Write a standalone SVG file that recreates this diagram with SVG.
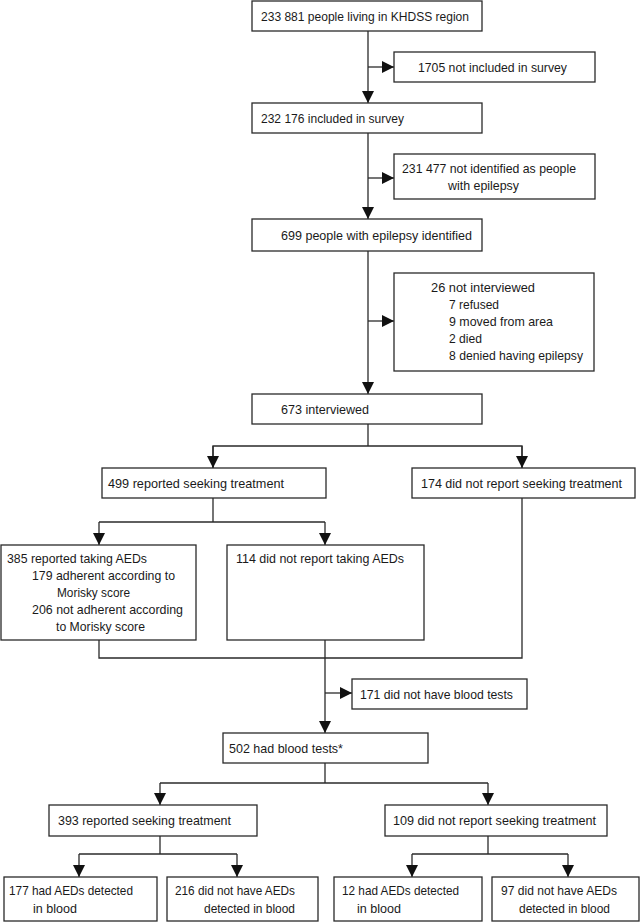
<svg xmlns="http://www.w3.org/2000/svg" width="642" height="922" viewBox="0 0 642 922">
<style>
.box{fill:#fff;stroke:#2a2a2a;stroke-width:1.3}
.ln{fill:none;stroke:#2a2a2a;stroke-width:1.3}
text{font-family:"Liberation Sans",Arial,sans-serif;font-size:13.5px;fill:#1a1a1a}
</style>
<defs>
<marker id="ah" markerUnits="userSpaceOnUse" markerWidth="12" markerHeight="12" viewBox="0 0 10 10" refX="10" refY="5" orient="auto">
<path d="M0,0 L10,5 L0,10 Z" fill="#111"/>
</marker>
</defs>
<rect width="642" height="922" fill="#fff"/>
<g id="connectors">
<line class="ln" x1="368" y1="31" x2="368" y2="103" marker-end="url(#ah)"/>
<line class="ln" x1="368" y1="67" x2="394" y2="67" marker-end="url(#ah)"/>
<line class="ln" x1="368" y1="133" x2="368" y2="219" marker-end="url(#ah)"/>
<line class="ln" x1="368" y1="178" x2="394" y2="178" marker-end="url(#ah)"/>
<line class="ln" x1="368" y1="251" x2="368" y2="394" marker-end="url(#ah)"/>
<line class="ln" x1="368" y1="321" x2="394" y2="321" marker-end="url(#ah)"/>
<polyline class="ln" points="368,424 368,446"/>
<polyline class="ln" points="213,468 213,446 522,446 522,468"/>
<line class="ln" x1="213" y1="446" x2="213" y2="468" marker-end="url(#ah)"/>
<line class="ln" x1="522" y1="446" x2="522" y2="468" marker-end="url(#ah)"/>
<polyline class="ln" points="213,498 213,522"/>
<polyline class="ln" points="99,522 325,522"/>
<line class="ln" x1="99" y1="522" x2="99" y2="545" marker-end="url(#ah)"/>
<line class="ln" x1="325" y1="522" x2="325" y2="545" marker-end="url(#ah)"/>
<polyline class="ln" points="99,640 99,658 522,658 522,498"/>
<line class="ln" x1="325" y1="640" x2="325" y2="733" marker-end="url(#ah)"/>
<line class="ln" x1="325" y1="693" x2="352" y2="693" marker-end="url(#ah)"/>
<polyline class="ln" points="325,763 325,783"/>
<polyline class="ln" points="160,783 488,783"/>
<line class="ln" x1="160" y1="783" x2="160" y2="805" marker-end="url(#ah)"/>
<line class="ln" x1="488" y1="783" x2="488" y2="805" marker-end="url(#ah)"/>
<polyline class="ln" points="160,836 160,854"/>
<polyline class="ln" points="79,854 237,854"/>
<line class="ln" x1="79" y1="854" x2="79" y2="877" marker-end="url(#ah)"/>
<line class="ln" x1="237" y1="854" x2="237" y2="877" marker-end="url(#ah)"/>
<polyline class="ln" points="488,836 488,854"/>
<polyline class="ln" points="412,854 568,854"/>
<line class="ln" x1="412" y1="854" x2="412" y2="877" marker-end="url(#ah)"/>
<line class="ln" x1="568" y1="854" x2="568" y2="877" marker-end="url(#ah)"/>
</g>
<g id="n-khdss"><rect class="box" x="252" y="1" width="230" height="30"/><text x="261" y="20.5" textLength="208" lengthAdjust="spacingAndGlyphs">233 881 people living in KHDSS region</text></g>
<g id="n-notincluded"><rect class="box" x="394" y="52" width="201" height="30"/><text x="418" y="72" textLength="149" lengthAdjust="spacingAndGlyphs">1705 not included in survey</text></g>
<g id="n-included"><rect class="box" x="252" y="103" width="230" height="30"/><text x="261" y="122.5" textLength="143" lengthAdjust="spacingAndGlyphs">232 176 included in survey</text></g>
<g id="n-notidentified"><rect class="box" x="394" y="154" width="201" height="45"/><text x="402" y="173" textLength="174" lengthAdjust="spacingAndGlyphs">231 477 not identified as people</text><text x="448" y="190" textLength="71" lengthAdjust="spacingAndGlyphs">with epilepsy</text></g>
<g id="n-identified"><rect class="box" x="252" y="219" width="230" height="32"/><text x="281" y="240" textLength="191" lengthAdjust="spacingAndGlyphs">699 people with epilepsy identified</text></g>
<g id="n-notinterviewed"><rect class="box" x="394" y="273" width="200" height="98"/>
<text x="431" y="292" textLength="104" lengthAdjust="spacingAndGlyphs">26 not interviewed</text>
<text x="449" y="309" textLength="50" lengthAdjust="spacingAndGlyphs">7 refused</text>
<text x="449" y="326" textLength="104" lengthAdjust="spacingAndGlyphs">9 moved from area</text>
<text x="449" y="343" textLength="33" lengthAdjust="spacingAndGlyphs">2 died</text>
<text x="449" y="360" textLength="134" lengthAdjust="spacingAndGlyphs">8 denied having epilepsy</text></g>
<g id="n-interviewed"><rect class="box" x="252" y="394" width="230" height="30"/><text x="281" y="413.5" textLength="88" lengthAdjust="spacingAndGlyphs">673 interviewed</text></g>
<g id="n-seeking"><rect class="box" x="102" y="468" width="224" height="30"/><text x="108" y="487.5" textLength="176" lengthAdjust="spacingAndGlyphs">499 reported seeking treatment</text></g>
<g id="n-notseeking"><rect class="box" x="412" y="468" width="223" height="30"/><text x="421" y="487.5" textLength="201" lengthAdjust="spacingAndGlyphs">174 did not report seeking treatment</text></g>
<g id="n-takingaeds"><rect class="box" x="1" y="545" width="195" height="95"/>
<text x="7" y="563" textLength="140" lengthAdjust="spacingAndGlyphs">385 reported taking AEDs</text>
<text x="32" y="580" textLength="143" lengthAdjust="spacingAndGlyphs">179 adherent according to</text>
<text x="57" y="597" textLength="73" lengthAdjust="spacingAndGlyphs">Morisky score</text>
<text x="32" y="614" textLength="151" lengthAdjust="spacingAndGlyphs">206 not adherent according</text>
<text x="56" y="631" textLength="89" lengthAdjust="spacingAndGlyphs">to Morisky score</text></g>
<g id="n-nottaking"><rect class="box" x="227" y="545" width="197" height="95"/><text x="236" y="563" textLength="168" lengthAdjust="spacingAndGlyphs">114 did not report taking AEDs</text></g>
<g id="n-noblood"><rect class="box" x="352" y="679" width="175" height="30"/><text x="360" y="698.5" textLength="153" lengthAdjust="spacingAndGlyphs">171 did not have blood tests</text></g>
<g id="n-blood"><rect class="box" x="223" y="733" width="205" height="30"/><text x="229" y="752.5" textLength="114" lengthAdjust="spacingAndGlyphs">502 had blood tests*</text></g>
<g id="n-bseeking"><rect class="box" x="49" y="805" width="208" height="31"/><text x="58" y="825" textLength="173" lengthAdjust="spacingAndGlyphs">393 reported seeking treatment</text></g>
<g id="n-bnotseeking"><rect class="box" x="385" y="805" width="222" height="31"/><text x="393" y="825" textLength="203" lengthAdjust="spacingAndGlyphs">109 did not report seeking treatment</text></g>
<g id="n-s-detected"><rect class="box" x="4" y="877" width="153" height="44"/><text x="9" y="895" textLength="124" lengthAdjust="spacingAndGlyphs">177 had AEDs detected</text><text x="33" y="913" textLength="44" lengthAdjust="spacingAndGlyphs">in blood</text></g>
<g id="n-s-notdetected"><rect class="box" x="167" y="877" width="151" height="44"/><text x="175" y="895" textLength="120" lengthAdjust="spacingAndGlyphs">216 did not have AEDs</text><text x="204" y="913" textLength="91" lengthAdjust="spacingAndGlyphs">detected in blood</text></g>
<g id="n-ns-detected"><rect class="box" x="334" y="877" width="148" height="44"/><text x="342" y="895" textLength="117" lengthAdjust="spacingAndGlyphs">12 had AEDs detected</text><text x="357" y="913" textLength="44" lengthAdjust="spacingAndGlyphs">in blood</text></g>
<g id="n-ns-notdetected"><rect class="box" x="492" y="877" width="147" height="44"/><text x="501" y="895" textLength="116" lengthAdjust="spacingAndGlyphs">97 did not have AEDs</text><text x="519" y="913" textLength="91" lengthAdjust="spacingAndGlyphs">detected in blood</text></g>
</svg>
